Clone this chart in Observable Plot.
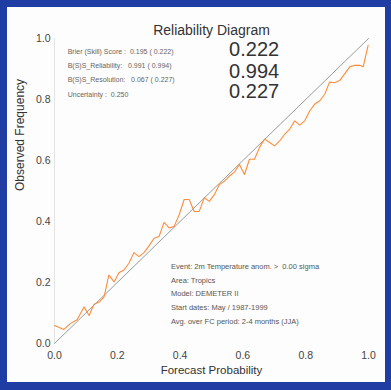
<!DOCTYPE html>
<html>
<head>
<meta charset="utf-8">
<script src="https://cdn.jsdelivr.net/npm/d3@7"></script>
<script src="https://cdn.jsdelivr.net/npm/@observablehq/plot@0.6"></script>
<style>
  html, body { margin: 0; padding: 0; }
  body { width: 391px; height: 390px; background: #1f3da3; position: relative; overflow: hidden; font-family: "Liberation Sans", Arial, sans-serif; }
  #panel { position: absolute; left: 7px; top: 7px; width: 378px; height: 375px; background: #fdfdfd; }
  #chart { position: absolute; left: 0; top: 0; }
</style>
</head>
<body>
<div id="panel"></div>
<div id="chart"></div>
<script>
const title = "Reliability Diagram";
const xLabel = "Forecast Probability";
const yLabel = "Observed Frequency";
const xTicks = [0, 0.2, 0.4, 0.6, 0.8, 1.0];
const yTicks = [0, 0.2, 0.4, 0.6, 0.8, 1.0];

// Forecast probability bins and observed frequency
const forecastProb = [0.000, 0.030, 0.051, 0.072, 0.094, 0.110, 0.126, 0.142, 0.158, 0.173,
  0.190, 0.205, 0.221, 0.237, 0.253, 0.269, 0.285, 0.301, 0.317, 0.333,
  0.349, 0.365, 0.381, 0.397, 0.413, 0.429, 0.445, 0.461, 0.477, 0.493,
  0.509, 0.525, 0.541, 0.557, 0.573, 0.589, 0.605, 0.621, 0.637, 0.653,
  0.669, 0.685, 0.701, 0.717, 0.733, 0.749, 0.765, 0.781, 0.797, 0.813,
  0.829, 0.845, 0.861, 0.876, 0.892, 0.908, 0.924, 0.940, 0.956, 0.972,
  0.983, 0.999];
const observedFreq = [0.059, 0.046, 0.066, 0.078, 0.120, 0.092, 0.129, 0.136, 0.153, 0.224,
  0.202, 0.232, 0.241, 0.263, 0.298, 0.285, 0.298, 0.320, 0.345, 0.351,
  0.397, 0.379, 0.384, 0.422, 0.472, 0.472, 0.433, 0.433, 0.478, 0.466,
  0.488, 0.521, 0.532, 0.549, 0.562, 0.587, 0.554, 0.604, 0.604, 0.643,
  0.670, 0.659, 0.648, 0.664, 0.686, 0.703, 0.730, 0.716, 0.730, 0.763,
  0.785, 0.796, 0.818, 0.857, 0.855, 0.862, 0.884, 0.907, 0.912, 0.912,
  0.907, 0.978];
const diagonal = [0, 1];

const statLines = [
  "Brier (Skill) Score :  0.195 ( 0.222)",
  "B(S)S_Reliability:   0.991 ( 0.994)",
  "B(S)S_Resolution:   0.067 ( 0.227)",
  "Uncertainty :  0.250"
];
const statY = [0.957, 0.911, 0.865, 0.815];
const bigValues = ["0.222", "0.994", "0.227"];
const bigY = [0.963, 0.891, 0.825];

const infoLines = [
  "Event: 2m Temperature anom. >  0.00 sigma",
  "Area: Tropics",
  "Model: DEMETER II",
  "Start dates: May / 1987-1999",
  "Avg. over FC period: 2-4 months (JJA)"
];
const infoY = [0.252, 0.206, 0.163, 0.117, 0.071];

const reliability = forecastProb.map((x, i) => ({x, y: observedFreq[i]}));

const chart = Plot.plot({
  width: 391,
  height: 390,
  marginLeft: 54,
  marginRight: 23,
  marginTop: 38,
  marginBottom: 47,
  style: { background: "transparent", fontFamily: "Liberation Sans, Arial, sans-serif", overflow: "visible" },
  x: { domain: [0, 1] },
  y: { domain: [0, 1] },
  marks: [
    Plot.ruleX([0], { stroke: "#e4e4e4", strokeWidth: 1 }),
    Plot.axisX({ ticks: xTicks, tickFormat: d3.format(".1f"), tickSize: 0, tickPadding: 8, fontSize: 10.5, fill: "#444", label: null }),
    Plot.axisY({ ticks: yTicks, tickFormat: d3.format(".1f"), tickSize: 0, tickPadding: 4, fontSize: 10.5, fill: "#444", label: null }),
    Plot.line(diagonal.map(d => ({x: d, y: d})), { x: "x", y: "y", stroke: "#9a9a9a", strokeWidth: 1 }),
    Plot.line(reliability, { x: "x", y: "y", stroke: "#ff8c3a", strokeWidth: 1.1 }),
    Plot.text([title], { frameAnchor: "top", dy: -13, fontSize: 14, fill: "#333" }),
    Plot.text([xLabel], { frameAnchor: "bottom", dy: 30, fontSize: 11.5, fill: "#333" }),
    Plot.text([yLabel], { frameAnchor: "left", dx: -34, rotate: -90, fontSize: 12, fill: "#333" }),
    Plot.text(statLines, { x: 0.042, y: (d, i) => statY[i], text: d => d, textAnchor: "start", fontSize: 7, fill: "#666" }),
    Plot.text(bigValues, { x: 0.556, y: (d, i) => bigY[i], text: d => d, textAnchor: "start", fontSize: 20, fill: "#333" }),
    Plot.text(infoLines, { x: 0.371, y: (d, i) => infoY[i], text: d => d, textAnchor: "start", fontSize: 7.5, fill: "#555" })
  ]
});
document.getElementById("chart").appendChild(chart);
</script>
</body>
</html>
